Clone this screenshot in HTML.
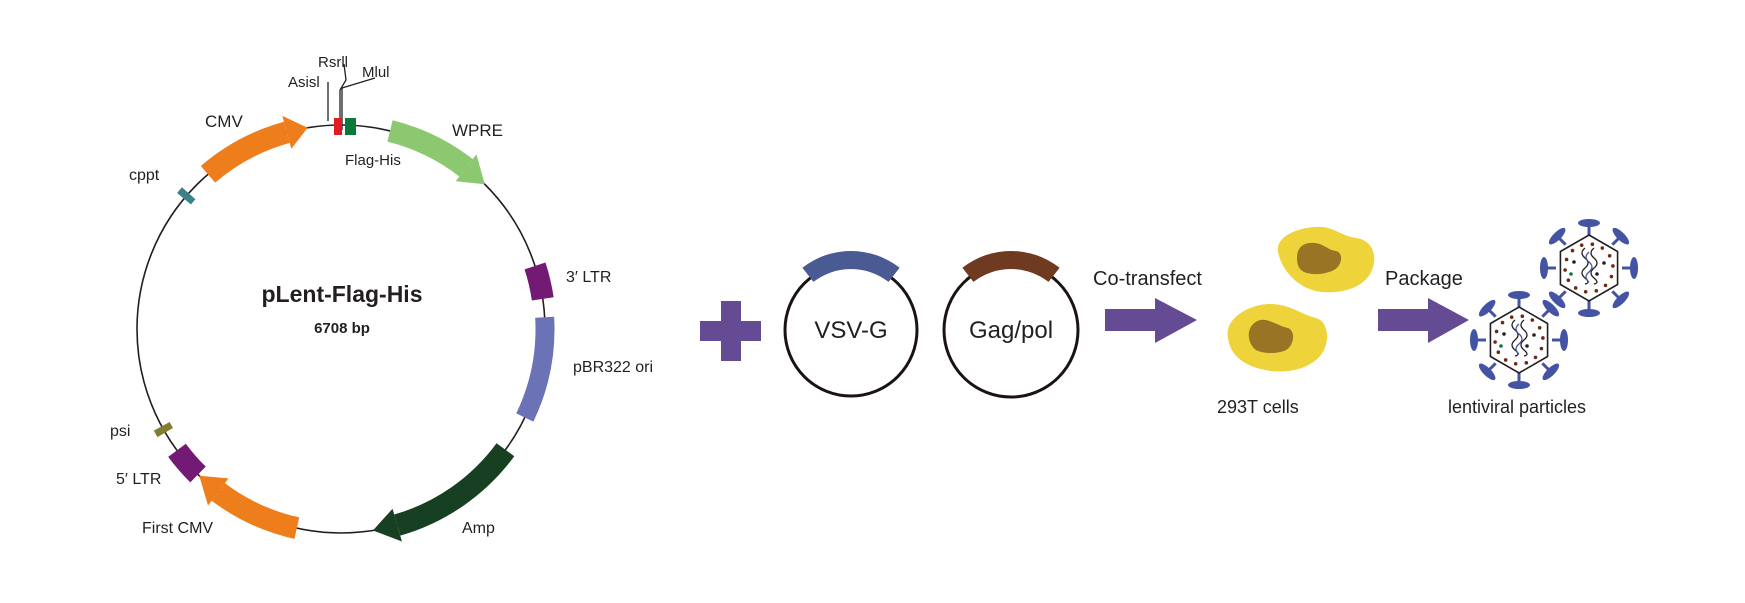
<!DOCTYPE html>
<html><head><meta charset="utf-8">
<style>
html,body{margin:0;padding:0;background:#fff;}
svg{display:block;}
text{font-family:"Liberation Sans","DejaVu Sans",sans-serif;fill:#231f20;}
</style></head>
<body>
<svg id="s" width="1745" height="603" viewBox="0 0 1745 603" xmlns="http://www.w3.org/2000/svg">
<rect width="1745" height="603" fill="#fff"/>
<g id="plasmid">
<circle cx="341" cy="329" r="204" fill="none" stroke="#231f20" stroke-width="1.6"/>
</g>
<line x1="328" y1="82" x2="328" y2="121" stroke="#231f20" stroke-width="1.3"/>
<polyline points="340,130 340,90 346,80 344,64" fill="none" stroke="#231f20" stroke-width="1.3"/>
<polyline points="342,130 342,88 375,78" fill="none" stroke="#231f20" stroke-width="1.3"/>
<rect x="334" y="118" width="8" height="17" fill="#e21b23"/>
<rect x="345" y="118" width="11" height="17" fill="#0a7a3a"/>

<text x="288" y="87" font-size="15">Asisl</text>
<text x="318" y="67" font-size="15">Rsrll</text>
<text x="362" y="77" font-size="15">Mlul</text>
<text x="205" y="127" font-size="17">CMV</text>
<text x="452" y="136" font-size="17">WPRE</text>
<text x="345" y="165" font-size="15">Flag-His</text>
<text x="129" y="180" font-size="16">cppt</text>
<text x="566" y="282" font-size="16">3′ LTR</text>
<text x="573" y="372" font-size="16">pBR322 ori</text>
<text x="110" y="436" font-size="16">psi</text>
<text x="116" y="484" font-size="16">5′ LTR</text>
<text x="142" y="533" font-size="16">First CMV</text>
<text x="462" y="533" font-size="16">Amp</text>
<text x="342" y="302" font-size="23" font-weight="bold" text-anchor="middle">pLent-Flag-His</text>
<text x="342" y="333" font-size="15" font-weight="bold" text-anchor="middle">6708 bp</text>

<rect x="721" y="301" width="20" height="60" fill="#654a94"/>
<rect x="700" y="321" width="61" height="20" fill="#654a94"/>

<circle cx="851" cy="330" r="66" fill="none" stroke="#1a1311" stroke-width="3"/>
<circle cx="1011" cy="330" r="67" fill="none" stroke="#1a1311" stroke-width="3"/>
<g id="bars"></g>
<text x="851" y="338" font-size="24" text-anchor="middle">VSV-G</text>
<text x="1011" y="338" font-size="24" text-anchor="middle">Gag/pol</text>

<polygon points="1105,309 1155,309 1155,298 1197,320 1155,343 1155,331 1105,331" fill="#654a94"/>
<polygon points="1378,309 1428,309 1428,298 1469,320 1428,343 1428,331 1378,331" fill="#654a94"/>
<text x="1093" y="285" font-size="20">Co-transfect</text>
<text x="1385" y="285" font-size="20">Package</text>

<path d="M1278,252 C1275,236 1300,226 1322,227 C1335,228 1342,236 1356,238 C1372,240 1378,255 1372,270 C1366,286 1345,294 1322,292 C1300,290 1282,272 1278,252 Z" fill="#eed43a"/>
<path d="M1297,258 C1297,246 1305,242 1315,243 C1324,244 1328,250 1336,251 C1344,253 1342,266 1334,270 C1326,274 1314,276 1304,272 C1298,269 1297,263 1297,258 Z" fill="#9a7425"/>
<path d="M1228,338 C1224,318 1250,304 1270,304 C1290,304 1300,314 1316,318 C1330,322 1330,345 1320,356 C1308,370 1285,374 1265,370 C1245,366 1230,356 1228,338 Z" fill="#eed43a"/>
<path d="M1249,338 C1247,326 1257,318 1266,320 C1274,322 1280,326 1288,328 C1296,331 1294,346 1286,350 C1278,354 1264,354 1256,350 C1252,347 1250,343 1249,338 Z" fill="#9a7425"/>
<text x="1217" y="413" font-size="18">293T cells</text>
<text x="1448" y="413" font-size="18">lentiviral particles</text>
<g id="viruses"></g>
</svg>
<script>
(function(){
var NS="http://www.w3.org/2000/svg";
var cx=341,cy=329,R=204;
function P(a,r,ccx,ccy){ccx=ccx||cx;ccy=ccy||cy;var t=a*Math.PI/180;return [(ccx+r*Math.sin(t)).toFixed(2),(ccy-r*Math.cos(t)).toFixed(2)];}
function add(parent,tag,attrs){var e=document.createElementNS(NS,tag);for(var k in attrs)e.setAttribute(k,attrs[k]);document.getElementById(parent).appendChild(e);return e;}
function band(a1,a2,w,col,par,ccx,ccy,rr){rr=rr||R;var ro=rr+w/2,ri=rr-w/2;var p1=P(a1,ro,ccx,ccy),p2=P(a2,ro,ccx,ccy),p3=P(a2,ri,ccx,ccy),p4=P(a1,ri,ccx,ccy);var lg=(a2-a1)>180?1:0;
var d="M"+p1+" A"+ro+" "+ro+" 0 "+lg+" 1 "+p2+" L"+p3+" A"+ri+" "+ri+" 0 "+lg+" 0 "+p4+" Z";add(par||"plasmid","path",{d:d,fill:col});}
function arrow(a1,a2,w,H,hd,col,rev){
 if(!rev){band(a1,a2-hd,w,col);var b=P(a2-hd,R+H/2),t=P(a2,R),c=P(a2-hd,R-H/2);add("plasmid","polygon",{points:b+" "+t+" "+c,fill:col});}
 else{band(a1+hd,a2,w,col);var b=P(a1+hd,R+H/2),t=P(a1,R),c=P(a1+hd,R-H/2);add("plasmid","polygon",{points:b+" "+t+" "+c,fill:col});}
}
arrow(-40.7,-9.4,22,34,6,"#ee7d1c",false);
arrow(13.9,44.8,22,34,7,"#8cc870",false);
arrow(126.3,171,22,34,7,"#173f22",false);
arrow(192.5,224,22,34,7,"#ee7d1c",false);
band(86.7,115.7,19,"#6b72b6");
band(72,81.5,22,"#731b74");
band(224.5,233.5,22,"#731b74");
band(239.5,241.5,18,"#7f7f2f");
band(309.7,311.7,18,"#3b8189");
band(-38,38,18,"#4a5a92","bars",851,330,70);
band(-38,38,18,"#6e3a20","bars",1011,330,70);
function virus(x,y){
 var g=document.createElementNS(NS,"g");document.getElementById("viruses").appendChild(g);
 function el(tag,a){var e=document.createElementNS(NS,tag);for(var k in a)e.setAttribute(k,a[k]);g.appendChild(e);return e;}
 for(var i=0;i<8;i++){var a=i*45;var s=P(a,33,x,y),e=P(a,44,x,y);
  el("line",{x1:s[0],y1:s[1],x2:e[0],y2:e[1],stroke:"#4453a3","stroke-width":3});
  var c=P(a,45,x,y);el("ellipse",{cx:c[0],cy:c[1],rx:11,ry:4,fill:"#4453a3",transform:"rotate("+a+" "+c[0]+" "+c[1]+")"});}
 var pts=[];for(var i=0;i<6;i++){pts.push(P(i*60,33,x,y).join(","));}
 el("polygon",{points:pts.join(" "),fill:"#fff",stroke:"#231f20","stroke-width":1.6});
 for(var i=0;i<14;i++){var a=i*360/14+8;var c=P(a,24,x,y);el("circle",{cx:c[0],cy:c[1],r:1.8,fill:"#6b2a14"});}
 el("path",{d:"M"+(x-4)+","+(y-20)+" q-6,5 0,10 q6,5 0,10 q-6,5 0,10 q6,5 0,6",fill:"none",stroke:"#231f20","stroke-width":1.3});
 el("path",{d:"M"+(x+5)+","+(y-20)+" q-6,5 0,10 q6,5 0,10 q-6,5 0,10 q6,5 0,6",fill:"none",stroke:"#231f20","stroke-width":1.3});
 el("path",{d:"M"+(x)+","+(y-16)+" q-6,5 0,10 q6,5 0,10 q-6,5 0,10",fill:"none",stroke:"#4453a3","stroke-width":1.3});
 el("circle",{cx:x-15,cy:y-6,r:1.8,fill:"#231f20"});
 el("circle",{cx:x+15,cy:y-5,r:1.8,fill:"#231f20"});
 el("circle",{cx:x+8,cy:y+6,r:1.8,fill:"#231f20"});
 el("circle",{cx:x-18,cy:y+6,r:1.8,fill:"#0a7a3a"});
}
virus(1589,268);virus(1519,340);
})();
</script>
</body></html>
